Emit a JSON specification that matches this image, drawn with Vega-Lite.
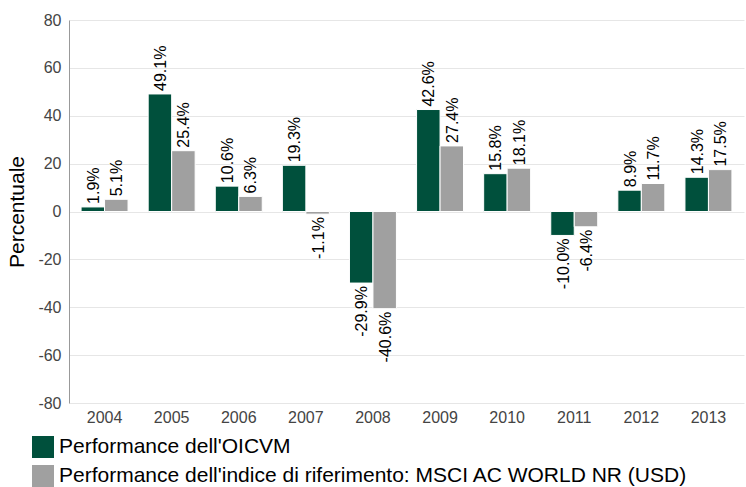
{
  "$schema": "https://vega.github.io/schema/vega-lite/v6.json",
  "width": 675,
  "height": 383,
  "autosize": {"type": "none"},
  "padding": {"left": 69, "top": 20, "right": 2, "bottom": 84},
  "background": "white",
  "config": {
    "font": "Liberation Sans",
    "view": {"stroke": null},
    "locale": {
      "number": {"decimal": ".", "thousands": ",", "grouping": [3], "currency": ["$", ""], "minus": "-"}
    }
  },
  "data": {
    "values": [
      {"anno": "2004", "serie": "Performance dell'OICVM", "valore": 1.9, "etichetta": "1.9%"},
      {"anno": "2004", "serie": "Performance dell'indice di riferimento: MSCI AC WORLD NR (USD)", "valore": 5.1, "etichetta": "5.1%"},
      {"anno": "2005", "serie": "Performance dell'OICVM", "valore": 49.1, "etichetta": "49.1%"},
      {"anno": "2005", "serie": "Performance dell'indice di riferimento: MSCI AC WORLD NR (USD)", "valore": 25.4, "etichetta": "25.4%"},
      {"anno": "2006", "serie": "Performance dell'OICVM", "valore": 10.6, "etichetta": "10.6%"},
      {"anno": "2006", "serie": "Performance dell'indice di riferimento: MSCI AC WORLD NR (USD)", "valore": 6.3, "etichetta": "6.3%"},
      {"anno": "2007", "serie": "Performance dell'OICVM", "valore": 19.3, "etichetta": "19.3%"},
      {"anno": "2007", "serie": "Performance dell'indice di riferimento: MSCI AC WORLD NR (USD)", "valore": -1.1, "etichetta": "-1.1%"},
      {"anno": "2008", "serie": "Performance dell'OICVM", "valore": -29.9, "etichetta": "-29.9%"},
      {"anno": "2008", "serie": "Performance dell'indice di riferimento: MSCI AC WORLD NR (USD)", "valore": -40.6, "etichetta": "-40.6%"},
      {"anno": "2009", "serie": "Performance dell'OICVM", "valore": 42.6, "etichetta": "42.6%"},
      {"anno": "2009", "serie": "Performance dell'indice di riferimento: MSCI AC WORLD NR (USD)", "valore": 27.4, "etichetta": "27.4%"},
      {"anno": "2010", "serie": "Performance dell'OICVM", "valore": 15.8, "etichetta": "15.8%"},
      {"anno": "2010", "serie": "Performance dell'indice di riferimento: MSCI AC WORLD NR (USD)", "valore": 18.1, "etichetta": "18.1%"},
      {"anno": "2011", "serie": "Performance dell'OICVM", "valore": -10.0, "etichetta": "-10.0%"},
      {"anno": "2011", "serie": "Performance dell'indice di riferimento: MSCI AC WORLD NR (USD)", "valore": -6.4, "etichetta": "-6.4%"},
      {"anno": "2012", "serie": "Performance dell'OICVM", "valore": 8.9, "etichetta": "8.9%"},
      {"anno": "2012", "serie": "Performance dell'indice di riferimento: MSCI AC WORLD NR (USD)", "valore": 11.7, "etichetta": "11.7%"},
      {"anno": "2013", "serie": "Performance dell'OICVM", "valore": 14.3, "etichetta": "14.3%"},
      {"anno": "2013", "serie": "Performance dell'indice di riferimento: MSCI AC WORLD NR (USD)", "valore": 17.5, "etichetta": "17.5%"}
    ]
  },
  "encoding": {
    "x": {
      "field": "anno", "type": "nominal",
      "scale": {"paddingInner": 0.3, "paddingOuter": 0.18},
      "axis": {
        "title": null, "labelAngle": 0, "ticks": false, "domain": false,
        "labelFontSize": 16, "labelColor": "#444444", "labelPadding": 6
      }
    },
    "xOffset": {
      "field": "serie", "type": "nominal",
      "sort": ["Performance dell'OICVM", "Performance dell'indice di riferimento: MSCI AC WORLD NR (USD)"]
    },
    "y": {
      "field": "valore", "type": "quantitative",
      "scale": {"domain": [-80, 80], "nice": false},
      "axis": {
        "title": "Percentuale", "titleFontSize": 21, "titleFontWeight": "normal", "titleColor": "#000000",
        "titlePadding": 10,
        "values": [-80, -60, -40, -20, 0, 20, 40, 60, 80],
        "ticks": false, "labelFontSize": 16, "labelColor": "#444444", "labelPadding": 8,
        "domainColor": "#999999", "gridColor": "#e6e6e6"
      }
    }
  },
  "layer": [
    {
      "mark": {"type": "bar", "stroke": "white", "strokeWidth": 1},
      "encoding": {
        "color": {
          "field": "serie", "type": "nominal",
          "sort": ["Performance dell'OICVM", "Performance dell'indice di riferimento: MSCI AC WORLD NR (USD)"],
          "scale": {
            "domain": ["Performance dell'OICVM", "Performance dell'indice di riferimento: MSCI AC WORLD NR (USD)"],
            "range": ["#00503c", "#a0a0a0"]
          },
          "legend": {
            "title": null, "orient": "none", "legendX": -37, "legendY": 416,
            "symbolType": "square", "symbolSize": 484, "symbolStrokeWidth": 0,
            "labelFontSize": 21, "labelColor": "#000000", "rowPadding": 7,
            "labelLimit": 800, "symbolOffset": 0, "labelOffset": 5
          }
        }
      }
    },
    {
      "transform": [{"filter": "datum.valore >= 0"}],
      "mark": {"type": "text", "angle": -90, "align": "left", "baseline": "middle", "dx": 3, "dy": 1, "fontSize": 16, "color": "#000000"},
      "encoding": {"text": {"field": "etichetta", "type": "nominal"}}
    },
    {
      "transform": [{"filter": "datum.valore < 0"}],
      "mark": {"type": "text", "angle": -90, "align": "right", "baseline": "middle", "dx": -3, "dy": 1, "fontSize": 16, "color": "#000000"},
      "encoding": {"text": {"field": "etichetta", "type": "nominal"}}
    }
  ]
}
